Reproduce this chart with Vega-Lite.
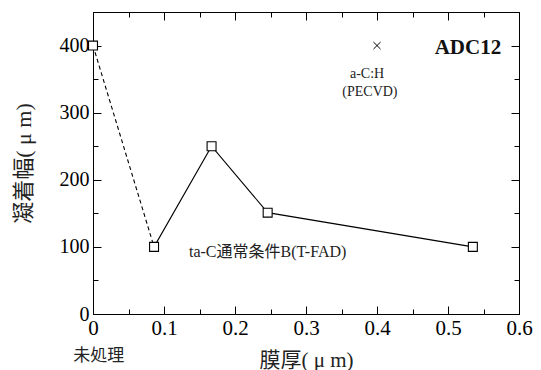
{
  "$schema": "https://vega.github.io/schema/vega-lite/v6.json",
  "width": 426,
  "height": 302,
  "autosize": {"type": "none"},
  "padding": {"left": 93, "top": 12, "right": 22, "bottom": 56},
  "background": "white",
  "config": {
    "view": {"stroke": "black", "strokeWidth": 1},
    "font": "Liberation Serif, Times New Roman, serif",
    "axis": {
      "domainColor": "black",
      "tickColor": "black",
      "grid": false,
      "labelColor": "black",
      "titleColor": "#222",
      "labelFont": "Liberation Serif, Times New Roman, serif",
      "titleFont": "Liberation Serif, Noto Sans CJK JP, serif",
      "titleFontWeight": "normal"
    }
  },
  "datasets": {
    "solid": [
      {"t": 0.086, "w": 100},
      {"t": 0.167, "w": 250},
      {"t": 0.246, "w": 151},
      {"t": 0.535, "w": 100}
    ],
    "dashed": [
      {"t": 0.0, "w": 400},
      {"t": 0.086, "w": 100}
    ],
    "squares": [
      {"t": 0.0, "w": 400},
      {"t": 0.086, "w": 100},
      {"t": 0.167, "w": 250},
      {"t": 0.246, "w": 151},
      {"t": 0.535, "w": 100}
    ],
    "cross": [{"t": 0.4, "w": 400}],
    "title": [{"t": 0.528, "w": 396, "label": "ADC12"}],
    "labels": [
      {"t": 0.386, "w": 358, "label": "a-C:H"},
      {"t": 0.39, "w": 331, "label": "(PECVD)"}
    ],
    "talabel": [{"t": 0.246, "w": 92, "label": "ta-C通常条件B(T-FAD)"}],
    "untreated": [{"t": 0.008, "w": -62, "label": "未処理"}]
  },
  "resolve": {"axis": {"x": "independent", "y": "independent"}},
  "layer": [
    {
      "data": {"name": "solid"},
      "mark": {"type": "line", "color": "black", "strokeWidth": 1.1},
      "encoding": {
        "x": {
          "field": "t", "type": "quantitative",
          "scale": {"domain": [0, 0.6], "nice": false},
          "axis": {
            "orient": "bottom",
            "values": [0, 0.05, 0.1, 0.15, 0.2, 0.25, 0.3, 0.35, 0.4, 0.45, 0.5, 0.55, 0.6],
            "labelExpr": "abs(datum.value*10 - round(datum.value*10)) < 0.01 ? format(datum.value, '.1~f') : ''",
            "tickSize": {"condition": {"test": "abs(datum.value*10 - round(datum.value*10)) < 0.01", "value": -8}, "value": -5},
            "labelFontSize": 21,
            "labelPadding": 11,
            "labelFlush": false,
            "title": "膜厚( μ m)",
            "titleFontSize": 21,
            "titlePadding": 11
          }
        },
        "y": {
          "field": "w", "type": "quantitative",
          "scale": {"domain": [0, 450], "nice": false},
          "axis": {
            "orient": "left",
            "values": [0, 50, 100, 150, 200, 250, 300, 350, 400],
            "labelExpr": "datum.value % 100 == 0 ? datum.value : ''",
            "tickSize": {"condition": {"test": "datum.value % 100 == 0", "value": -8}, "value": -5},
            "labelFontSize": 20,
            "labelPadding": 12,
            "labelFlush": false,
            "title": "凝着幅( μ m)",
            "titleFontSize": 22,
            "titlePadding": 24
          }
        }
      }
    },
    {
      "data": {"name": "dashed"},
      "mark": {"type": "line", "color": "black", "strokeWidth": 1.1, "strokeDash": [4, 3]},
      "encoding": {
        "x": {"field": "t", "type": "quantitative", "axis": null},
        "y": {"field": "w", "type": "quantitative", "axis": null}
      }
    },
    {
      "data": {"name": "squares"},
      "mark": {"type": "point", "shape": "square", "size": 80, "filled": true, "fill": "white", "stroke": "black", "strokeWidth": 1.1, "opacity": 1, "clip": false},
      "encoding": {
        "x": {"field": "t", "type": "quantitative", "axis": null},
        "y": {"field": "w", "type": "quantitative", "axis": null}
      }
    },
    {
      "data": {"name": "cross"},
      "mark": {"type": "point", "shape": "M-1,-1L1,1M1,-1L-1,1", "size": 50, "filled": false, "stroke": "black", "strokeWidth": 1, "opacity": 1},
      "encoding": {
        "x": {"field": "t", "type": "quantitative", "axis": null},
        "y": {"field": "w", "type": "quantitative", "axis": null}
      }
    },
    {
      "data": {"name": "title"},
      "mark": {"type": "text", "font": "Liberation Serif, Times New Roman, serif", "fontWeight": "bold", "fontSize": 21, "color": "#111"},
      "encoding": {
        "x": {"field": "t", "type": "quantitative", "axis": null},
        "y": {"field": "w", "type": "quantitative", "axis": null},
        "text": {"field": "label"}
      }
    },
    {
      "data": {"name": "labels"},
      "mark": {"type": "text", "font": "Liberation Serif, Noto Sans CJK JP, serif", "fontSize": 14, "color": "#222"},
      "encoding": {
        "x": {"field": "t", "type": "quantitative", "axis": null},
        "y": {"field": "w", "type": "quantitative", "axis": null},
        "text": {"field": "label"}
      }
    },
    {
      "data": {"name": "talabel"},
      "mark": {"type": "text", "font": "Liberation Serif, Noto Sans CJK JP, serif", "fontSize": 16, "color": "#222"},
      "encoding": {
        "x": {"field": "t", "type": "quantitative", "axis": null},
        "y": {"field": "w", "type": "quantitative", "axis": null},
        "text": {"field": "label"}
      }
    },
    {
      "data": {"name": "untreated"},
      "mark": {"type": "text", "font": "Noto Sans CJK JP, serif", "fontSize": 17, "color": "#222", "clip": false},
      "encoding": {
        "x": {"field": "t", "type": "quantitative", "axis": null},
        "y": {"field": "w", "type": "quantitative", "axis": null},
        "text": {"field": "label"}
      }
    },
    {
      "data": {"name": "cross"},
      "mark": {"type": "point", "opacity": 0},
      "encoding": {
        "x": {
          "field": "t", "type": "quantitative",
          "axis": {
            "orient": "top",
            "values": [0, 0.05, 0.1, 0.15, 0.2, 0.25, 0.3, 0.35, 0.4, 0.45, 0.5, 0.55, 0.6],
            "labels": false, "title": null,
            "tickSize": {"condition": {"test": "abs(datum.value*10 - round(datum.value*10)) < 0.01", "value": -8}, "value": -5}
          }
        },
        "y": {
          "field": "w", "type": "quantitative",
          "axis": {
            "orient": "right",
            "values": [0, 50, 100, 150, 200, 250, 300, 350, 400],
            "labels": false, "title": null,
            "tickSize": {"condition": {"test": "datum.value % 100 == 0", "value": -8}, "value": -5}
          }
        }
      }
    }
  ]
}
